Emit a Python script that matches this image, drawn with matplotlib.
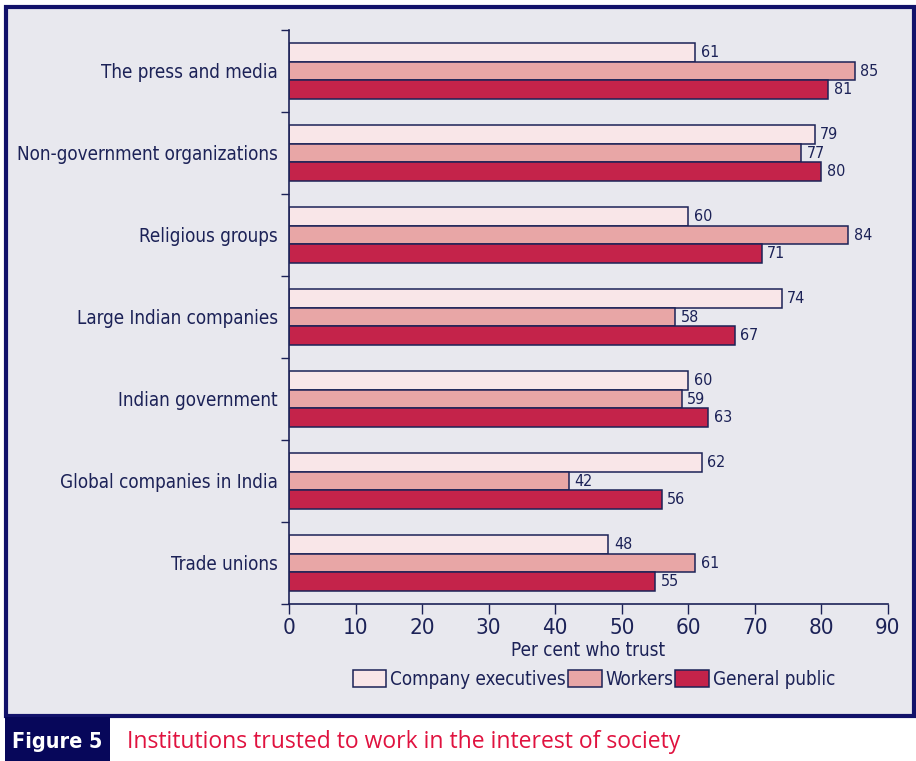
import matplotlib.pyplot as plt
import matplotlib.patches as mpatches
import numpy as np

plt.rcParams['font.family'] = ['DejaVu Sans']
plt.rcParams['font.stretch'] = 'condensed'

categories = ["The press and media", "Non-government organizations", "Religious groups",
              "Large Indian companies", "Indian government", "Global companies in India",
              "Trade unions"]
executives = [61, 79, 60, 74, 60, 62, 48]
workers = [85, 77, 84, 58, 59, 42, 61]
public = [81, 80, 71, 67, 63, 56, 55]
series_names = ["Company executives", "Workers", "General public"]

navy = "#1c2257"
colors = ["#f9e6e8", "#e8a6a6", "#c4234a"]

fig = plt.figure(figsize=(9.16, 7.61), dpi=100)
fig.patch.set_facecolor("white")

# panel background with navy frame
fig.patches.append(mpatches.Rectangle((6/916, 1 - 716/761), 908/916, 709/761,
                                      transform=fig.transFigure, facecolor="#e8e8ee",
                                      edgecolor="#12126a", linewidth=3, zorder=-2))
# caption box
fig.patches.append(mpatches.Rectangle((5/916, 0), 105/916, 44/761,
                                      transform=fig.transFigure, facecolor="#07075a",
                                      edgecolor="none", zorder=-1))
fig.text(57/916, 1 - 742/761, "Figure 5", color="white", fontsize=15.5, fontweight="bold",
         ha="center", va="center", family=["DejaVu Sans"])
fig.text(127/916, 1 - 742/761, "Institutions trusted to work in the interest of society",
         color="#e0123f", fontsize=16.5, ha="left", va="center",
         family=["Open Sans", "DejaVu Sans"], stretch="normal")

ax = fig.add_axes([289/916, 1 - 604/761, 599/916, 574/761])
ax.set_facecolor("none")

y = np.arange(len(categories))[::-1]
h = 0.228
data = [executives, workers, public]
offsets = [h, 0, -h]
for vals, off, col, name in zip(data, offsets, colors, series_names):
    bars = ax.barh(y + off, vals, height=h, color=col, edgecolor=navy, linewidth=1.1, label=name)
    ax.bar_label(bars, labels=[str(v) for v in vals], padding=4, fontsize=11.5, color=navy)

ax.set_xlim(0, 90)
ax.set_ylim(-0.5, len(categories) - 0.5)
ax.set_xticks(range(0, 91, 10))
ax.tick_params(axis="x", length=7, width=1, color=navy, labelcolor=navy, labelsize=16, pad=3)
ax.set_yticks(y)
ax.set_yticklabels(categories)
ax.tick_params(axis="y", which="major", length=0, labelcolor=navy, labelsize=13.5, pad=8)
ax.set_yticks(np.arange(-0.5, len(categories)), minor=True)
ax.tick_params(axis="y", which="minor", length=6, width=1, color=navy)

for s in ["top", "right"]:
    ax.spines[s].set_visible(False)
for s in ["left", "bottom"]:
    ax.spines[s].set_color(navy)
    ax.spines[s].set_linewidth(1.2)

ax.set_xlabel("Per cent who trust", color=navy, fontsize=13.5, labelpad=2)

leg = ax.legend(loc="center", bbox_to_anchor=(0.509, -0.132), ncol=3, frameon=False,
                fontsize=13.5, handlelength=1.8, handleheight=1.0, handletextpad=0.2,
                columnspacing=0.1, labelcolor=navy)

fig.savefig("out.png", dpi=100, facecolor=fig.get_facecolor())
